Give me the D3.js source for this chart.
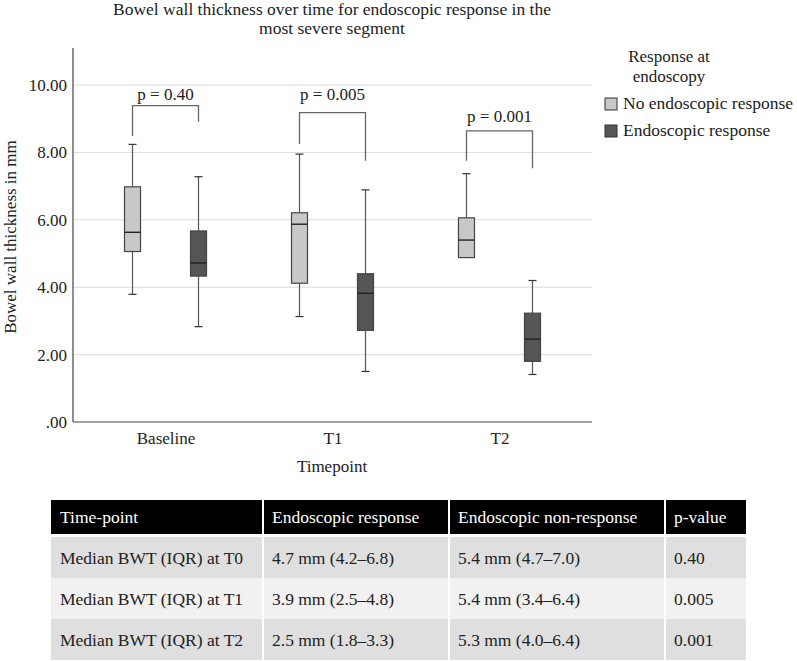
<!DOCTYPE html>
<html>
<head>
<meta charset="utf-8">
<script src="https://cdn.jsdelivr.net/npm/d3@7"></script>
<style>
  body { margin: 0; background: #fff; }
</style>
</head>
<body>
<script>
// data
const categories = ["Baseline", "T1", "T2"];
const groups = ["No endoscopic response", "Endoscopic response"];
const groupColors = ["#c8c8c8", "#555555"];

// no endoscopic response (light boxes)
const noMin = [3.79, 3.13, 4.88];
const noQ1 = [5.06, 4.12, 4.88];
const noMed = [5.63, 5.87, 5.40];
const noQ3 = [6.98, 6.21, 6.06];
const noMax = [8.24, 7.95, 7.37];

// endoscopic response (dark boxes)
const yesMin = [2.83, 1.50, 1.41];
const yesQ1 = [4.33, 2.72, 1.80];
const yesMed = [4.72, 3.82, 2.46];
const yesQ3 = [5.67, 4.40, 3.23];
const yesMax = [7.28, 6.89, 4.20];

// significance brackets
const pLabels = ["p = 0.40", "p = 0.005", "p = 0.001"];
const bracketTop = [9.39, 9.18, 8.64];
const bracketLeftEnd = [8.49, 8.25, 7.75];
const bracketRightEnd = [8.91, 7.75, 7.53];
const pLabelY = [9.56, 9.56, 8.90];

const yTicks = [0, 2, 4, 6, 8, 10];
const yTickLabels = [".00", "2.00", "4.00", "6.00", "8.00", "10.00"];

// table below the chart
const tableHeader = ["Time-point", "Endoscopic response", "Endoscopic non-response", "p-value"];
const rowLabels = ["Median BWT (IQR) at T0", "Median BWT (IQR) at T1", "Median BWT (IQR) at T2"];
const responseCol = ["4.7 mm (4.2\u20136.8)", "3.9 mm (2.5\u20134.8)", "2.5 mm (1.8\u20133.3)"];
const nonResponseCol = ["5.4 mm (4.7\u20137.0)", "5.4 mm (3.4\u20136.4)", "5.3 mm (4.0\u20136.4)"];
const pCol = ["0.40", "0.005", "0.001"];

const width = 797;
const height = 661;
const plot = { left: 73, right: 592, top: 48, bottom: 422 };
const serif = "'Liberation Serif', 'DejaVu Serif', serif";

const svg = d3.select("body").append("svg")
  .attr("width", width)
  .attr("height", height)
  .attr("font-family", serif);

const x = d3.scalePoint()
  .domain(categories)
  .range([plot.left, plot.right])
  .padding(0.554);

const y = d3.scaleLinear()
  .domain([0, 11.1])
  .range([plot.bottom, plot.top]);

const offset = 33;
const boxW = 16;
const capW = 8;

// title
svg.append("text")
  .attr("x", 332).attr("y", 15)
  .attr("text-anchor", "middle")
  .style("font-size", "17.5px")
  .selectAll("tspan")
  .data(["Bowel wall thickness over time for endoscopic response in the", "most severe segment"])
  .enter().append("tspan")
    .attr("x", 332)
    .attr("dy", (d, i) => i === 0 ? 0 : 19)
    .text(d => d);

// gridlines
svg.append("g")
  .selectAll("line")
  .data(yTicks.filter(d => d > 0))
  .enter().append("line")
    .attr("x1", plot.left).attr("x2", plot.right)
    .attr("y1", d => y(d)).attr("y2", d => y(d))
    .attr("stroke", "#dcdcdc")
    .attr("stroke-width", 1);

// y axis
const yAxis = svg.append("g")
  .attr("transform", `translate(${plot.left},0)`)
  .call(d3.axisLeft(y).tickValues(yTicks).tickSize(0).tickPadding(6)
    .tickFormat((d, i) => yTickLabels[i]));
yAxis.select(".domain").remove();
yAxis.selectAll("text").style("font-size", "17px");

svg.append("line")
  .attr("x1", plot.left).attr("x2", plot.left)
  .attr("y1", plot.top).attr("y2", plot.bottom)
  .attr("stroke", "#444").attr("stroke-width", 1.2);

// x axis
const xAxis = svg.append("g")
  .attr("transform", `translate(0,${plot.bottom})`)
  .call(d3.axisBottom(x).tickSize(0).tickPadding(10));
xAxis.select(".domain").remove();
xAxis.selectAll("text").style("font-size", "17px");

svg.append("line")
  .attr("x1", plot.left).attr("x2", plot.right)
  .attr("y1", plot.bottom).attr("y2", plot.bottom)
  .attr("stroke", "#444").attr("stroke-width", 1.2);

// axis titles
svg.append("text")
  .attr("x", 332).attr("y", 472)
  .attr("text-anchor", "middle")
  .style("font-size", "17px")
  .text("Timepoint");

svg.append("text")
  .attr("transform", "translate(16,237) rotate(-90)")
  .attr("text-anchor", "middle")
  .style("font-size", "17px")
  .text("Bowel wall thickness in mm");

// box plots
const boxData = [];
categories.forEach((c, i) => {
  boxData.push({ cat: c, g: 0, min: noMin[i], q1: noQ1[i], med: noMed[i], q3: noQ3[i], max: noMax[i] });
  boxData.push({ cat: c, g: 1, min: yesMin[i], q1: yesQ1[i], med: yesMed[i], q3: yesQ3[i], max: yesMax[i] });
});

const cx = d => x(d.cat) + (d.g === 0 ? -offset : offset);

const boxes = svg.append("g").selectAll("g")
  .data(boxData)
  .enter().append("g");

// whiskers
boxes.append("line")
  .attr("x1", cx).attr("x2", cx)
  .attr("y1", d => y(d.max)).attr("y2", d => y(d.q3))
  .attr("stroke", "#555").attr("stroke-width", 1.2);
boxes.append("line")
  .attr("x1", cx).attr("x2", cx)
  .attr("y1", d => y(d.q1)).attr("y2", d => y(d.min))
  .attr("stroke", "#555").attr("stroke-width", 1.2);
boxes.filter(d => d.max > d.q3).append("line")
  .attr("x1", d => cx(d) - capW / 2).attr("x2", d => cx(d) + capW / 2)
  .attr("y1", d => y(d.max)).attr("y2", d => y(d.max))
  .attr("stroke", "#333").attr("stroke-width", 1.2);
boxes.filter(d => d.min < d.q1).append("line")
  .attr("x1", d => cx(d) - capW / 2).attr("x2", d => cx(d) + capW / 2)
  .attr("y1", d => y(d.min)).attr("y2", d => y(d.min))
  .attr("stroke", "#333").attr("stroke-width", 1.2);

// boxes
boxes.append("rect")
  .attr("x", d => cx(d) - boxW / 2)
  .attr("width", boxW)
  .attr("y", d => y(d.q3))
  .attr("height", d => y(d.q1) - y(d.q3))
  .attr("fill", d => groupColors[d.g])
  .attr("stroke", "#444").attr("stroke-width", 1.2);

// medians
boxes.append("line")
  .attr("x1", d => cx(d) - boxW / 2).attr("x2", d => cx(d) + boxW / 2)
  .attr("y1", d => y(d.med)).attr("y2", d => y(d.med))
  .attr("stroke", "#222").attr("stroke-width", 1.4);

// p-value brackets
const brackets = svg.append("g").selectAll("g")
  .data(categories)
  .enter().append("g");

brackets.append("path")
  .attr("d", (c, i) => {
    const x0 = x(c) - offset, x1 = x(c) + offset;
    return `M${x0},${y(bracketLeftEnd[i])}V${y(bracketTop[i])}H${x1}V${y(bracketRightEnd[i])}`;
  })
  .attr("fill", "none")
  .attr("stroke", "#666").attr("stroke-width", 1.3);

brackets.append("text")
  .attr("x", c => x(c))
  .attr("y", (c, i) => y(pLabelY[i]))
  .attr("text-anchor", "middle")
  .style("font-size", "17px")
  .text((c, i) => pLabels[i]);

// legend
const legend = svg.append("g");
legend.append("text")
  .attr("x", 669).attr("y", 62)
  .attr("text-anchor", "middle")
  .style("font-size", "17px")
  .selectAll("tspan")
  .data(["Response at", "endoscopy"])
  .enter().append("tspan")
    .attr("x", 669)
    .attr("dy", (d, i) => i === 0 ? 0 : 20)
    .text(d => d);

const legendItems = legend.selectAll("g.item")
  .data(groups)
  .enter().append("g")
    .attr("class", "item")
    .attr("transform", (d, i) => `translate(605,${98 + i * 27})`);

legendItems.append("rect")
  .attr("width", 12).attr("height", 12)
  .attr("fill", (d, i) => groupColors[i])
  .attr("stroke", "#333").attr("stroke-width", 1);

legendItems.append("text")
  .attr("x", 18).attr("y", 11)
  .style("font-size", "17.5px")
  .text(d => d);

// table
const colEdges = [51, 263, 449, 665, 746];
const headerTop = 500, headerH = 34;
const rowTop = 537, rowH = 41;
const rowColors = ["#dfdfdf", "#f1f1f1", "#dfdfdf"];

const table = svg.append("g");

table.append("rect")
  .attr("x", colEdges[0]).attr("y", headerTop)
  .attr("width", colEdges[4] - colEdges[0]).attr("height", headerH)
  .attr("fill", "#000");

table.selectAll("text.head")
  .data(tableHeader)
  .enter().append("text")
    .attr("class", "head")
    .attr("x", (d, i) => colEdges[i] + 9)
    .attr("y", headerTop + headerH / 2 + 6)
    .style("font-size", "17.5px")
    .style("fill", "#fff")
    .text(d => d);

const rows = rowLabels.map((r, i) => [r, responseCol[i], nonResponseCol[i], pCol[i]]);

table.selectAll("rect.row")
  .data(rows)
  .enter().append("rect")
    .attr("class", "row")
    .attr("x", colEdges[0])
    .attr("y", (d, i) => rowTop + i * rowH)
    .attr("width", colEdges[4] - colEdges[0])
    .attr("height", rowH)
    .attr("fill", (d, i) => rowColors[i]);

rows.forEach((row, i) => {
  table.selectAll(null)
    .data(row)
    .enter().append("text")
      .attr("x", (d, j) => colEdges[j] + 9)
      .attr("y", rowTop + i * rowH + rowH / 2 + 6)
      .style("font-size", "17.5px")
      .text(d => d);
});

// white column separators
table.selectAll("line.sep")
  .data(colEdges.slice(1, 4))
  .enter().append("line")
    .attr("class", "sep")
    .attr("x1", d => d).attr("x2", d => d)
    .attr("y1", headerTop).attr("y2", rowTop + 3 * rowH)
    .attr("stroke", "#fff").attr("stroke-width", 2);

// one serif face for every label, overriding the axis defaults
svg.selectAll("text")
  .style("font-family", serif)
  .filter(function() { return !this.style.fill; })
  .style("fill", "#222");
</script>
</body>
</html>
